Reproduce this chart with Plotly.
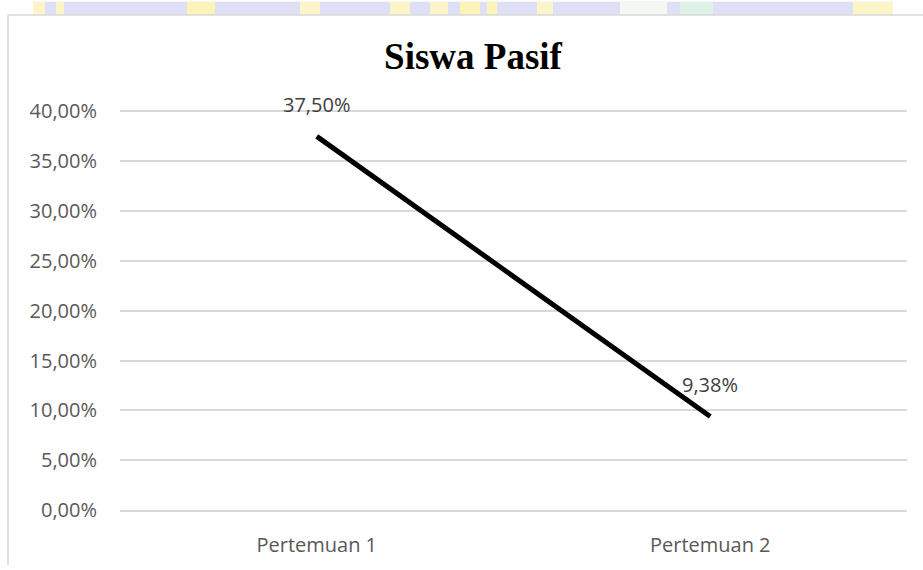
import plotly.graph_objects as go

categories = ["Pertemuan 1", "Pertemuan 2"]
values = [37.50, 9.38]
value_labels = ["37,50%", "9,38%"]
tick_values = [0, 5, 10, 15, 20, 25, 30, 35, 40]
tick_labels = ["0,00%", "5,00%", "10,00%", "15,00%", "20,00%", "25,00%", "30,00%", "35,00%", "40,00%"]

W, H = 923, 570
L, R, T, B = 120, 16, 110, 54
pw = W - L - R
ph = H - T - B


def px(x):
    return (x - L) / pw


def py(y):
    return (H - B - y) / ph


fig = go.Figure()
fig.add_trace(go.Scatter(
    x=categories, y=values, mode="lines",
    line=dict(color="#000000", width=5),
    hoverinfo="skip", showlegend=False,
))

for c, v, t in zip(categories, values, value_labels):
    fig.add_annotation(x=c, y=v, text=t, showarrow=False, yshift=32,
                       xanchor="center", yanchor="middle",
                       font=dict(family="Open Sans", size=20, color="#404040"))

shapes = []
# faded watermark strip above the chart frame
strip = [
    (33, 893, "#dfdff7"),
    (33, 45, "#fbf5c8"), (56, 64, "#fbf5c8"), (187, 215, "#fbf3b8"),
    (300, 320, "#fbf5c8"), (390, 410, "#fbf5c8"), (430, 448, "#fbf5c8"),
    (460, 480, "#fbf3b8"), (487, 497, "#fbf3b8"), (537, 553, "#fbf5c8"),
    (620, 667, "#f4f8f4"), (680, 713, "#dff2e6"), (853, 893, "#fbf5c8"),
]
for x0, x1, col in strip:
    shapes.append(dict(type="rect", xref="paper", yref="paper",
                       x0=px(x0), x1=px(x1), y0=py(0), y1=py(13),
                       fillcolor=col, line=dict(width=0), layer="below"))
# chart frame (top and left)
shapes.append(dict(type="line", xref="paper", yref="paper",
                   x0=px(8), x1=px(W + 2), y0=py(13.5), y1=py(13.5),
                   line=dict(color="#d9d9d9", width=1.5)))
shapes.append(dict(type="line", xref="paper", yref="paper",
                   x0=px(8), x1=px(8), y0=py(13.5), y1=py(H + 2),
                   line=dict(color="#d9d9d9", width=1.5)))

fig.update_layout(
    width=W, height=H,
    margin=dict(l=L, r=R, t=T, b=B),
    paper_bgcolor="#ffffff", plot_bgcolor="#ffffff",
    title=dict(text="<b>Siswa Pasif</b>", x=473 / W, xanchor="center",
               y=1 - 56 / H, yanchor="middle",
               font=dict(family="Liberation Serif", size=37, color="#000000")),
    xaxis=dict(type="category", range=[-0.5, 1.5], showgrid=False,
               showline=True, linecolor="#d9d9d9", linewidth=1.5,
               ticks="", ticklabelstandoff=16, zeroline=False,
               tickfont=dict(family="Open Sans", size=20, color="#595959")),
    yaxis=dict(range=[0, 40.15], tickmode="array", tickvals=tick_values,
               ticktext=tick_labels, showgrid=True, gridcolor="#d9d9d9",
               gridwidth=1.5, zeroline=False, showline=False, ticks="",
               ticklabelstandoff=22,
               tickfont=dict(family="Open Sans", size=20, color="#595959")),
    shapes=shapes,
)

fig.write_html("out.html", config={"displayModeBar": False},
               post_script="document.body.style.margin='0';document.body.style.overflow='hidden';")
